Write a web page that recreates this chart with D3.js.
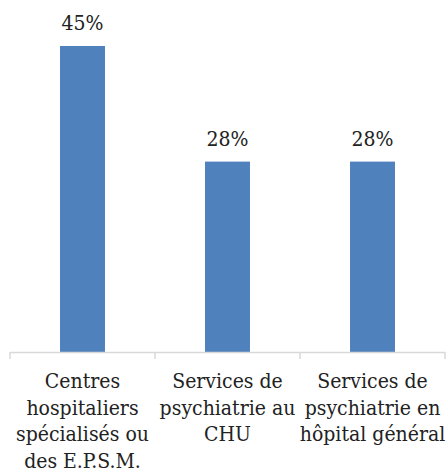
<!DOCTYPE html>
<html>
<head>
<meta charset="utf-8">
<script src="https://cdn.jsdelivr.net/npm/d3@7"></script>
<style>
  body { margin: 0; background: #fff; }
  svg { display: block; }
  svg text { font-family: "DejaVu Serif Condensed", "DejaVu Serif", serif; font-stretch: condensed; }
</style>
</head>
<body>
<svg id="chart" width="448" height="473"></svg>
<script>
const categories = ["Centres hospitaliers spécialisés ou des E.P.S.M.",
                    "Services de psychiatrie au CHU",
                    "Services de psychiatrie en hôpital général"];
const categoryLines = [["Centres", "hospitaliers", "spécialisés ou", "des E.P.S.M."],
                       ["Services de", "psychiatrie au", "CHU"],
                       ["Services de", "psychiatrie en", "hôpital général"]];
const values = [45, 28, 28];

var svg = d3.select("#chart");

var x = d3.scaleBand().
  domain(categories).
  range([10, 445]).
  paddingInner(0.69).
  paddingOuter(0.345);

var y = d3.scaleLinear().
  domain([0, 50]).
  range([352, 12]);

// bars
svg.selectAll("rect.bar").
  data(values).
  enter().append("rect").
  attr("class", "bar").
  attr("x", (d, i) => x(categories[i])).
  attr("y", d => y(d)).
  attr("width", x.bandwidth()).
  attr("height", d => y(0) - y(d)).
  attr("fill", "#4f81bd");

// value labels
svg.selectAll("text.val").
  data(values).
  enter().append("text").
  attr("class", "val").
  attr("x", (d, i) => x(categories[i]) + x.bandwidth() / 2).
  attr("y", d => y(d) - 16).
  attr("text-anchor", "middle").
  attr("font-size", 21).
  attr("fill", "#222").
  text(d => d + "%");

// axis line and ticks between categories
var edges = d3.range(categories.length + 1).map(i => 10 + i * (435 / categories.length));
svg.append("line").
  attr("x1", 10).attr("x2", 445).
  attr("y1", y(0) + 0.5).attr("y2", y(0) + 0.5).
  attr("stroke", "#d9d9d9").attr("stroke-width", 1.5);
svg.selectAll("line.tick").
  data(edges).
  enter().append("line").
  attr("class", "tick").
  attr("x1", d => d).attr("x2", d => d).
  attr("y1", y(0)).attr("y2", y(0) + 7).
  attr("stroke", "#d9d9d9").attr("stroke-width", 1.5);

// category labels
categoryLines.forEach(function (lines, i) {
  var t = svg.append("text").
    attr("text-anchor", "middle").
    attr("font-size", 21).
    attr("fill", "#222");
  lines.forEach(function (line, j) {
    t.append("tspan").
      attr("x", x(categories[i]) + x.bandwidth() / 2).
      attr("y", 388 + j * 26.7).
      text(line);
  });
});
</script>
</body>
</html>
